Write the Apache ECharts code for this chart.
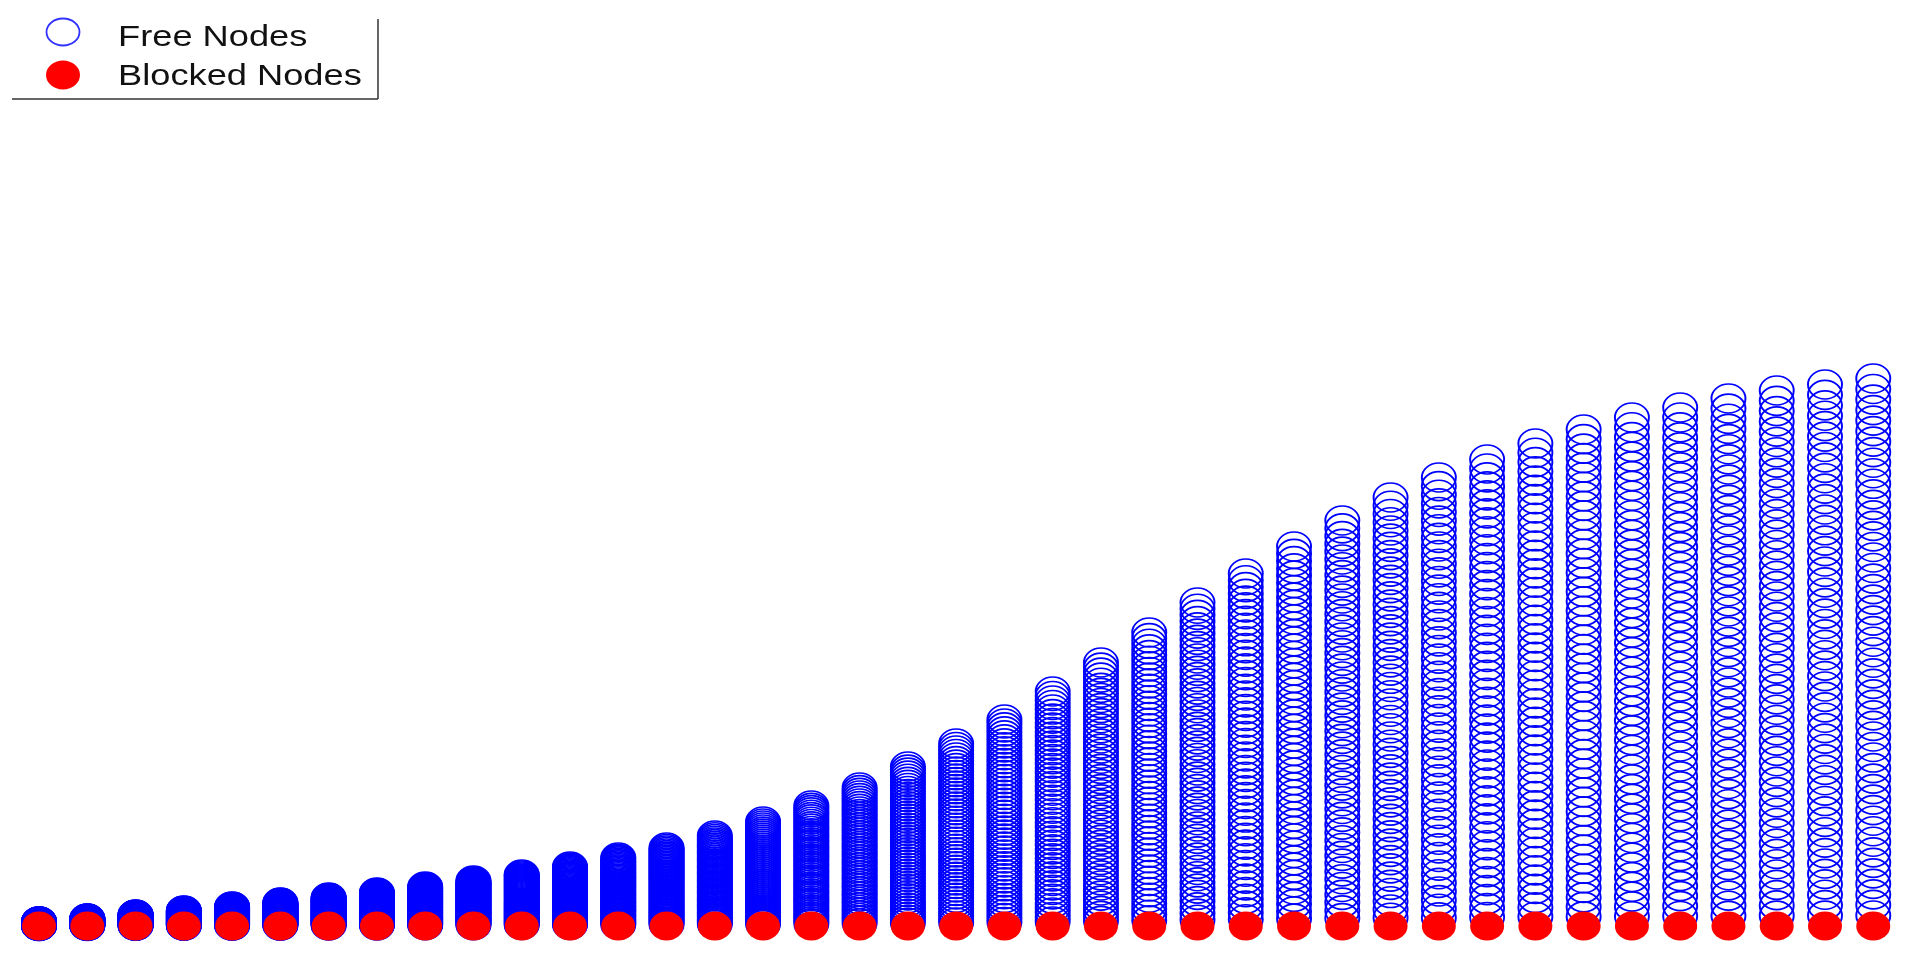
<!DOCTYPE html>
<html>
<head>
<meta charset="utf-8">
<title>Free / Blocked Nodes</title>
<script src="https://cdn.jsdelivr.net/npm/echarts@6/dist/echarts.min.js"></script>
<style>
  html, body { margin: 0; padding: 0; background: #fff; }
  #chart { width: 1906px; height: 957px; }
</style>
</head>
<body>
<div id="chart"></div>
<script>
// x positions (steps) of each column
var steps = [1, 2, 3, 4, 5, 6, 7, 8, 9, 10, 11, 12, 13, 14, 15, 16, 17, 18, 19, 20,
  21, 22, 23, 24, 25, 26, 27, 28, 29, 30, 31, 32, 33, 34, 35, 36, 37, 38, 39];
// height reached by the highest free node in each column
var freeTop = [4.5, 7.5, 11.5, 15.5, 19.5, 23.5, 28.5, 33.5, 39.5, 45.5,
  51.5, 59.5, 68.5, 78.5, 90.5, 104.5, 120.5, 138.5, 159.5, 182.5,
  206.5, 234.5, 263.5, 293.5, 323.5, 352.5, 379.5, 405.5, 428.5, 448.5,
  466.5, 482.5, 496.5, 508.5, 518.5, 527.5, 535.5, 541.5, 547.5];
var freePerColumn = 52;   // free nodes stacked in every column
var blockedLevel = 0;     // blocked nodes sit on the base row

var chart = echarts.init(document.getElementById('chart'));

var freeData = [];
var blockedData = [];
for (var i = 0; i < steps.length; i++) {
  for (var k = 1; k <= freePerColumn; k++) {
    freeData.push([steps[i], freeTop[i] * k / freePerColumn]);
  }
  blockedData.push([steps[i], blockedLevel]);
}

chart.setOption({
  animation: false,
  backgroundColor: '#ffffff',
  grid: { left: 14.9, right: 8.6, top: 26, bottom: 31 },
  xAxis: { type: 'value', min: 0.5, max: 39.5, show: false },
  yAxis: { type: 'value', min: 0, max: 900, show: false },
  series: [
    {
      name: 'Free Nodes',
      type: 'scatter',
      clip: false,
      symbol: 'circle',
      symbolSize: [34, 29],
      itemStyle: { color: 'rgba(0,0,0,0)', borderColor: '#0000ff', borderWidth: 1.8, opacity: 1 },
      data: freeData,
      z: 2
    },
    {
      name: 'Blocked Nodes',
      type: 'scatter',
      clip: false,
      symbol: 'circle',
      symbolSize: [34, 29],
      itemStyle: { color: '#ff0000', opacity: 1 },
      data: blockedData,
      z: 3
    }
  ],
  graphic: [
    // legend box (right and bottom edges)
    { type: 'line', shape: { x1: 378, y1: 19, x2: 378, y2: 99 }, style: { stroke: '#333', lineWidth: 1.5 } },
    { type: 'line', shape: { x1: 12, y1: 99, x2: 378, y2: 99 }, style: { stroke: '#333', lineWidth: 1.5 } },
    { type: 'ellipse', shape: { cx: 63, cy: 32, rx: 16.5, ry: 13.5 }, style: { fill: 'none', stroke: '#3333ff', lineWidth: 1.8 } },
    { type: 'ellipse', shape: { cx: 63, cy: 75, rx: 17, ry: 14.5 }, style: { fill: '#ff0000' } },
    {
      type: 'text', x: 118, y: 38, scaleX: 1.25,
      style: { text: 'Free Nodes', font: '29px "Liberation Sans", Arial, sans-serif', fill: '#111', verticalAlign: 'middle' }
    },
    {
      type: 'text', x: 118, y: 77, scaleX: 1.25,
      style: { text: 'Blocked Nodes', font: '29px "Liberation Sans", Arial, sans-serif', fill: '#111', verticalAlign: 'middle' }
    }
  ]
});
</script>
</body>
</html>
